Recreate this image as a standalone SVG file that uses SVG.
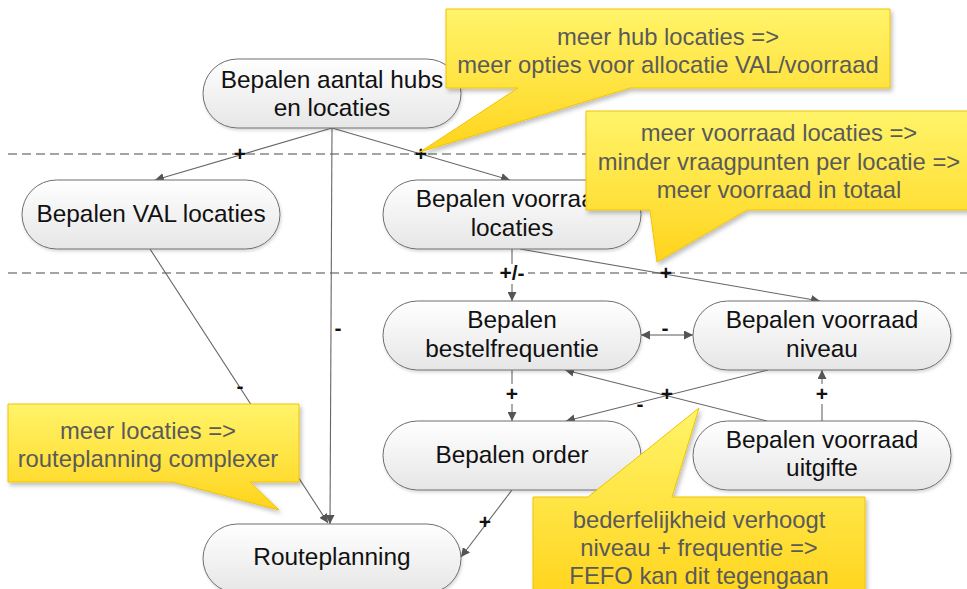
<svg xmlns="http://www.w3.org/2000/svg" width="967" height="589" viewBox="0 0 967 589">
<defs>
<linearGradient id="ng" x1="0" y1="0" x2="0" y2="1">
<stop offset="0" stop-color="#ffffff"/>
<stop offset="1" stop-color="#e6e6e6"/>
</linearGradient>
<linearGradient id="cg" x1="0" y1="0" x2="0" y2="1">
<stop offset="0" stop-color="#fff46a"/>
<stop offset="1" stop-color="#ffd41c"/>
</linearGradient>
<filter id="sh" x="-10%" y="-10%" width="130%" height="140%">
<feDropShadow dx="2" dy="3" stdDeviation="2" flood-color="#000" flood-opacity="0.25"/>
</filter>
<filter id="nsh" x="-10%" y="-10%" width="130%" height="140%">
<feDropShadow dx="1" dy="2" stdDeviation="1.5" flood-color="#000" flood-opacity="0.15"/>
</filter>
<marker id="ah" viewBox="0 0 10 10" refX="10" refY="5" markerWidth="9" markerHeight="9" markerUnits="userSpaceOnUse" orient="auto-start-reverse">
<path d="M0,0 L10,5 L0,10 Z" fill="#555"/>
</marker>
</defs>
<style>
.node rect{fill:url(#ng);stroke:#6e6e6e;stroke-width:1;filter:url(#nsh)}
.nt{font-family:"Liberation Sans",Arial,sans-serif;font-size:24.4px;fill:#111;text-anchor:middle}
.ct{font-family:"Liberation Sans",Arial,sans-serif;font-size:23.8px;fill:#5a5a5a;text-anchor:middle}
.co path{fill:url(#cg);stroke:#f2c300;stroke-width:1;filter:url(#sh)}
.dash{stroke:#4a4a4a;stroke-width:1.2;stroke-dasharray:9,5;fill:none}
.edge{stroke:#666;stroke-width:1.1;fill:none}
.arr{marker-end:url(#ah)}
.lbl{font-family:"Liberation Sans",Arial,sans-serif;font-size:21px;font-weight:bold;fill:#111;text-anchor:middle}
.bg{fill:#fff}
</style>

<g id="dashed-lines">
<line class="dash" x1="8" y1="154" x2="967" y2="154"/>
<line class="dash" x1="8" y1="273" x2="967" y2="273"/>
</g>

<g id="connectors">
<line class="edge arr" x1="332" y1="128" x2="155" y2="180"/>
<line class="edge arr" x1="332" y1="128" x2="510" y2="180"/>
<line class="edge arr" x1="332" y1="128" x2="330" y2="524"/>
<line class="edge arr" x1="150" y1="249" x2="328" y2="523"/>
<line class="edge arr" x1="512" y1="249" x2="512" y2="301"/>
<line class="edge arr" x1="520" y1="249" x2="820" y2="301"/>
<line class="edge arr" x1="652" y1="335" x2="641" y2="335"/>
<line class="edge" x1="652" y1="335" x2="680" y2="335"/>
<line class="edge arr" x1="680" y1="335" x2="693" y2="335"/>
<line class="edge arr" x1="512" y1="370" x2="512" y2="421"/>
<line class="edge arr" x1="768" y1="370" x2="566" y2="421"/>
<line class="edge arr" x1="767" y1="421" x2="565" y2="370"/>
<line class="edge arr" x1="822" y1="421" x2="822" y2="370"/>
<line class="edge arr" x1="512" y1="490" x2="461" y2="557"/>
<rect class="bg" x="496" y="264" width="32" height="20"/>
<rect class="bg" x="504" y="384" width="16" height="20"/>
<rect class="bg" x="814" y="384" width="16" height="20"/>
<text class="lbl" x="240" y="161">+</text>
<text class="lbl" x="421" y="161">+</text>
<text class="lbl" x="338" y="335">-</text>
<text class="lbl" x="240" y="393">-</text>
<text class="lbl" x="512" y="280">+/-</text>
<text class="lbl" x="666" y="280">+</text>
<text class="lbl" x="665" y="335">-</text>
<text class="lbl" x="512" y="401">+</text>
<text class="lbl" x="667" y="401">+</text>
<text class="lbl" x="640" y="411">-</text>
<text class="lbl" x="822" y="401">+</text>
<text class="lbl" x="485" y="529">+</text>
</g>

<g id="n-hubs" class="node">
<rect x="203" y="59" width="258" height="69" rx="34.5"/>
<text class="nt" x="332" y="88">Bepalen aantal hubs</text>
<text class="nt" x="332" y="116">en locaties</text>
</g>
<g id="n-val" class="node">
<rect x="22" y="180" width="258" height="69" rx="34.5"/>
<text class="nt" x="151" y="222">Bepalen VAL locaties</text>
</g>
<g id="n-voorraadlocaties" class="node">
<rect x="383" y="180" width="258" height="69" rx="34.5"/>
<text class="nt" x="512" y="207">Bepalen voorraad</text>
<text class="nt" x="512" y="236">locaties</text>
</g>
<g id="n-bestelfrequentie" class="node">
<rect x="383" y="301" width="258" height="69" rx="34.5"/>
<text class="nt" x="512" y="328">Bepalen</text>
<text class="nt" x="512" y="357">bestelfrequentie</text>
</g>
<g id="n-niveau" class="node">
<rect x="693" y="301" width="258" height="69" rx="34.5"/>
<text class="nt" x="822" y="328">Bepalen voorraad</text>
<text class="nt" x="822" y="357">niveau</text>
</g>
<g id="n-order" class="node">
<rect x="383" y="421" width="258" height="69" rx="34.5"/>
<text class="nt" x="512" y="463">Bepalen order</text>
</g>
<g id="n-uitgifte" class="node">
<rect x="693" y="421" width="258" height="69" rx="34.5"/>
<text class="nt" x="822" y="448">Bepalen voorraad</text>
<text class="nt" x="822" y="476">uitgifte</text>
</g>
<g id="n-route" class="node">
<rect x="203" y="524" width="258" height="69" rx="34.5"/>
<text class="nt" x="332" y="565">Routeplanning</text>
</g>

<g id="callout-hub" class="co">
<path d="M446,9 H890 V88 H630 L420,152 L518,88 H446 Z"/>
<text class="ct" x="668" y="45">meer hub locaties =&gt;</text>
<text class="ct" x="668" y="73">meer opties voor allocatie VAL/voorraad</text>
</g>
<g id="callout-voorraad" class="co">
<path d="M586,111 H975 V210 H747 L657,262 L650,210 H586 Z"/>
<text class="ct" x="779" y="141">meer voorraad locaties =&gt;</text>
<text class="ct" x="779" y="170">minder vraagpunten per locatie =&gt;</text>
<text class="ct" x="779" y="198">meer voorraad in totaal</text>
</g>
<g id="callout-route" class="co">
<path d="M8,404 H299 V482 H250 L279,510 L173,482 H8 Z"/>
<text class="ct" x="148" y="439">meer locaties =&gt;</text>
<text class="ct" x="148" y="467">routeplanning complexer</text>
</g>
<g id="callout-fefo" class="co">
<path d="M533,497 H588 L699,408 L672,497 H865 V600 H533 Z"/>
<text class="ct" x="699" y="528">bederfelijkheid verhoogt</text>
<text class="ct" x="699" y="556">niveau + frequentie =&gt;</text>
<text class="ct" x="699" y="584">FEFO kan dit tegengaan</text>
</g>
</svg>
